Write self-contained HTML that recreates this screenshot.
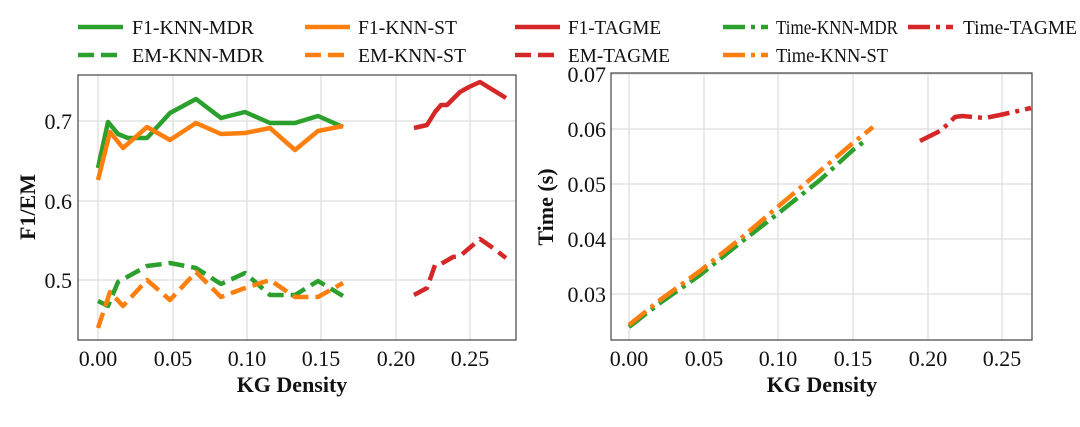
<!DOCTYPE html>
<html><head><style>body{margin:0;background:#fff}</style></head><body>
<svg width="1080" height="422" xmlns="http://www.w3.org/2000/svg" font-family="Liberation Serif, serif">
<g stroke="#ddd" stroke-width="1.2">
<line x1="98" y1="75" x2="98" y2="340"/><line x1="173" y1="75" x2="173" y2="340"/><line x1="247" y1="75" x2="247" y2="340"/><line x1="321" y1="75" x2="321" y2="340"/><line x1="396" y1="75" x2="396" y2="340"/><line x1="470" y1="75" x2="470" y2="340"/>
<line x1="78" y1="121" x2="516" y2="121"/><line x1="78" y1="201" x2="516" y2="201"/><line x1="78" y1="280" x2="516" y2="280"/>
<line x1="629" y1="73" x2="629" y2="340"/><line x1="704" y1="73" x2="704" y2="340"/><line x1="778" y1="73" x2="778" y2="340"/><line x1="853" y1="73" x2="853" y2="340"/><line x1="928" y1="73" x2="928" y2="340"/><line x1="1002" y1="73" x2="1002" y2="340"/>
<line x1="611" y1="74" x2="1032" y2="74"/><line x1="611" y1="129" x2="1032" y2="129"/><line x1="611" y1="184" x2="1032" y2="184"/><line x1="611" y1="239" x2="1032" y2="239"/><line x1="611" y1="294" x2="1032" y2="294"/>
</g>
<rect x="78" y="75" width="438" height="265" fill="none" stroke="#444" stroke-width="1.2"/>
<rect x="611" y="73" width="421" height="267" fill="none" stroke="#444" stroke-width="1.2"/>
<g fill="none" stroke-width="4.5" stroke-linejoin="round">
<polyline stroke="#2ca02c" points="98,168 108,122 118,134 128,138 147,138 170,113 196,99 221,118 245,112 270,123 295,123 318,116 343,127"/>
<polyline stroke="#ff7f0e" points="98,180 110,132 123,148 147,127 170,140 196,123 221,134 245,133 270,128 295,150 318,131 343,126"/>
<polyline stroke="#d62728" points="414,128 427,125 435,112 441,105 447,105 460,92 469,87 480,82 493,90 506,98"/>
<polyline stroke="#2ca02c" stroke-dasharray="16,7" points="98,301 108,306 118,282 147,266 170,263 196,268 221,284 245,273 270,295 295,295 318,281 343,296"/>
<polyline stroke="#ff7f0e" stroke-dasharray="16,7" points="98,328 110,292 123,306 147,280 170,300 196,272 221,297 245,288 270,280 295,297 318,297 343,283"/>
<polyline stroke="#d62728" stroke-dasharray="16,7" points="414,295 427,288 435,265 441,264 453,257 460,256 480,239 493,248 506,258"/>
<polyline stroke="#2ca02c" stroke-dasharray="22,6,4,6" points="629,327 660,303 700,275 740,243 780,212 820,180 853,150 866,140"/>
<polyline stroke="#ff7f0e" stroke-dasharray="22,6,4,6" points="629,325 660,300 700,271 740,239 780,205 820,171 853,143 873,127"/>
<polyline stroke="#d62728" stroke-dasharray="22,6,4,6" points="920,141 940,131 948,124 955,117 962,116 985,118 1000,115 1031,108"/>
</g>
<g font-size="22" fill="#111" text-anchor="middle">
<text x="98" y="366">0.00</text><text x="173" y="366">0.05</text><text x="247" y="366">0.10</text><text x="321" y="366">0.15</text><text x="396" y="366">0.20</text><text x="470" y="366">0.25</text>
<text x="629" y="366">0.00</text><text x="704" y="366">0.05</text><text x="778" y="366">0.10</text><text x="853" y="366">0.15</text><text x="928" y="366">0.20</text><text x="1002" y="366">0.25</text>
</g>
<g font-size="22" fill="#111" text-anchor="end">
<text x="72" y="129">0.7</text><text x="72" y="209">0.6</text><text x="72" y="288">0.5</text>
<text x="606" y="82">0.07</text><text x="606" y="137">0.06</text><text x="606" y="192">0.05</text><text x="606" y="247">0.04</text><text x="606" y="302">0.03</text>
</g>
<g font-size="22" font-weight="bold" fill="#111" text-anchor="middle">
<text x="292" y="392">KG Density</text><text x="822" y="392">KG Density</text>
<text transform="translate(35,207) rotate(-90)">F1/EM</text>
<text transform="translate(553,207) rotate(-90)">Time (s)</text>
</g>
<g stroke-width="4.5" fill="none">
<line x1="78" y1="27" x2="123" y2="27" stroke="#2ca02c"/>
<line x1="305" y1="27" x2="350" y2="27" stroke="#ff7f0e"/>
<line x1="515" y1="27" x2="560" y2="27" stroke="#d62728"/>
<line x1="723" y1="27" x2="768" y2="27" stroke="#2ca02c" stroke-dasharray="22,6,4,6"/>
<line x1="908" y1="27" x2="953" y2="27" stroke="#d62728" stroke-dasharray="22,6,4,6"/>
<line x1="78" y1="55" x2="123" y2="55" stroke="#2ca02c" stroke-dasharray="16,7"/>
<line x1="305" y1="55" x2="350" y2="55" stroke="#ff7f0e" stroke-dasharray="16,7"/>
<line x1="515" y1="55" x2="560" y2="55" stroke="#d62728" stroke-dasharray="16,7"/>
<line x1="723" y1="55" x2="768" y2="55" stroke="#ff7f0e" stroke-dasharray="22,6,4,6"/>
</g>
<g font-size="19.5" fill="#111">
<text x="132" y="34" textLength="122" lengthAdjust="spacingAndGlyphs">F1-KNN-MDR</text>
<text x="358" y="34" textLength="99" lengthAdjust="spacingAndGlyphs">F1-KNN-ST</text>
<text x="568" y="34" textLength="93" lengthAdjust="spacingAndGlyphs">F1-TAGME</text>
<text x="776" y="34" textLength="122" lengthAdjust="spacingAndGlyphs">Time-KNN-MDR</text>
<text x="963" y="34" textLength="114" lengthAdjust="spacingAndGlyphs">Time-TAGME</text>
<text x="132" y="62" textLength="132" lengthAdjust="spacingAndGlyphs">EM-KNN-MDR</text>
<text x="358" y="62" textLength="108" lengthAdjust="spacingAndGlyphs">EM-KNN-ST</text>
<text x="568" y="62" textLength="102" lengthAdjust="spacingAndGlyphs">EM-TAGME</text>
<text x="776" y="62" textLength="112" lengthAdjust="spacingAndGlyphs">Time-KNN-ST</text>
</g>
</svg>
</body></html>
